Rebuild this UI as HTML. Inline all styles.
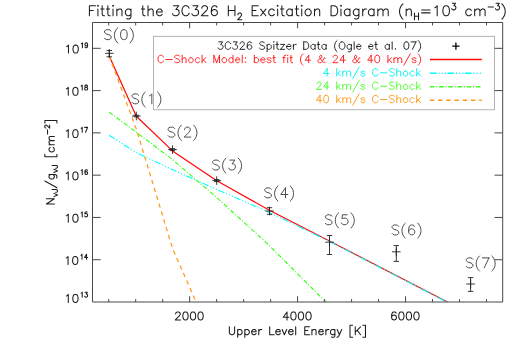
<!DOCTYPE html>
<html><head><meta charset="utf-8"><title>3C326 H2 Excitation Diagram</title>
<style>html,body{margin:0;padding:0;background:#fff;font-family:"Liberation Sans",sans-serif}svg{display:block}</style></head>
<body><svg width="525" height="359" viewBox="0 0 525 359">
<rect x="0" y="0" width="525" height="359" fill="#fff"/>
<defs><clipPath id="c"><rect x="92.5" y="22.5" width="410.2" height="279.5"/></clipPath></defs>
<g clip-path="url(#c)" fill="none" stroke-linecap="butt" stroke-linejoin="round">
<polyline points="109.2,56.0 136.3,116.2 172.5,150.9 216.8,180.7 269.4,210.3 329.4,241.0 447.5,302.0" stroke="#ff0a0a" stroke-width="1.25"/>
<polyline points="109.1,135.3 136.3,152.6 172.4,169.6 216.8,189.5 269.3,212.4 329.4,241.4 447.5,302.3" stroke="#00ffff" stroke-width="1.15" stroke-dasharray="6.6 1.85 1.1 2.1 1.1 2.05 1.1 1.6"/>
<polyline points="109.1,112.0 136.3,132.2 172.4,159.5 216.8,197.6 269.3,245.5 329.3,305.5" stroke="#3cff1e" stroke-width="1.15" stroke-dasharray="4.5 1.7 1.05 1.95"/>
<polyline points="109.2,56.0 136.3,129.0 172.6,248.7 217.6,350.8" stroke="#ff9a14" stroke-width="1.25" stroke-dasharray="4.3 3.9"/>
</g>
<path d="M105.0 53.3H113.6M109.3 49.0V57.6M109.3 50.5V56.8M106.6 50.5H112.0M106.6 56.8H112.0M132.0 116.0H140.6M136.3 111.7V120.3M136.3 115.2V116.8M133.6 115.2H139.0M133.6 116.8H139.0M168.2 149.6H176.8M172.5 145.3V153.9M172.5 148.6V150.6M169.8 148.6H175.2M169.8 150.6H175.2M212.4 180.6H221.0M216.7 176.3V184.9M216.7 179.6V181.6M214.0 179.6H219.4M214.0 181.6H219.4M265.2 211.0H273.8M269.5 206.7V215.3M269.5 207.7V214.3M266.8 207.7H272.2M266.8 214.3H272.2M325.2 242.2H333.8M329.5 237.9V246.5M329.5 235.5V254.5M326.8 235.5H332.2M326.8 254.5H332.2M392.0 251.8H400.6M396.3 247.4V256.1M396.3 245.6V261.4M393.6 245.6H399.0M393.6 261.4H399.0M466.3 284.0H474.9M470.6 279.7V288.3M470.6 277.6V291.4M467.9 277.6H473.3M467.9 291.4H473.3" stroke="#222" stroke-width="0.9" fill="none"/>
<rect x="153.5" y="36.4" width="341.0" height="73.30000000000001" fill="#fff" stroke="#b4b4b4" stroke-width="1"/>
<path d="M218.79 41.89L222.70 41.89L220.57 44.73L221.63 44.73L222.34 45.09L222.70 45.44L223.05 46.51L223.05 47.22L222.70 48.28L221.99 48.99L220.92 49.35L219.86 49.35L218.79 48.99L218.43 48.64L218.08 47.93M230.51 43.67L230.16 42.95L229.45 42.24L228.74 41.89L227.32 41.89L226.61 42.24L225.90 42.95L225.54 43.67L225.19 44.73L225.19 46.51L225.54 47.57L225.90 48.28L226.61 48.99L227.32 49.35L228.74 49.35L229.45 48.99L230.16 48.28L230.51 47.57M233.36 41.89L237.27 41.89L235.13 44.73L236.20 44.73L236.91 45.09L237.27 45.44L237.62 46.51L237.62 47.22L237.27 48.28L236.55 48.99L235.49 49.35L234.42 49.35L233.36 48.99L233.00 48.64L232.65 47.93M240.11 43.67L240.11 43.31L240.46 42.60L240.82 42.24L241.53 41.89L242.95 41.89L243.66 42.24L244.02 42.60L244.37 43.31L244.37 44.02L244.02 44.73L243.31 45.80L239.75 49.35L244.73 49.35M251.48 42.95L251.12 42.24L250.06 41.89L249.35 41.89L248.28 42.24L247.57 43.31L247.21 45.09L247.21 46.86L247.57 48.28L248.28 48.99L249.35 49.35L249.70 49.35L250.77 48.99L251.48 48.28L251.83 47.22L251.83 46.86L251.48 45.80L250.77 45.09L249.70 44.73L249.35 44.73L248.28 45.09L247.57 45.80L247.21 46.86M264.62 42.95L263.91 42.24L262.85 41.89L261.43 41.89L260.36 42.24L259.65 42.95L259.65 43.67L260.00 44.38L260.36 44.73L261.07 45.09L263.20 45.80L263.91 46.15L264.27 46.51L264.62 47.22L264.62 48.28L263.91 48.99L262.85 49.35L261.43 49.35L260.36 48.99L259.65 48.28M267.11 44.38L267.11 51.84M267.11 45.44L267.82 44.73L268.53 44.38L269.60 44.38L270.31 44.73L271.02 45.44L271.37 46.51L271.37 47.22L271.02 48.28L270.31 48.99L269.60 49.35L268.53 49.35L267.82 48.99L267.11 48.28M273.51 41.89L273.86 42.24L274.22 41.89L273.86 41.53L273.51 41.89M273.86 44.38L273.86 49.35M277.06 41.89L277.06 47.93L277.41 48.99L278.12 49.35L278.84 49.35M275.99 44.38L278.48 44.38M284.52 44.38L280.61 49.35M280.61 44.38L284.52 44.38M280.61 49.35L284.52 49.35M286.65 46.51L290.92 46.51L290.92 45.80L290.56 45.09L290.20 44.73L289.49 44.38L288.43 44.38L287.72 44.73L287.01 45.44L286.65 46.51L286.65 47.22L287.01 48.28L287.72 48.99L288.43 49.35L289.49 49.35L290.20 48.99L290.92 48.28M293.40 44.38L293.40 49.35M293.40 46.51L293.76 45.44L294.47 44.73L295.18 44.38L296.25 44.38M303.71 41.89L303.71 49.35M303.71 41.89L306.19 41.89L307.26 42.24L307.97 42.95L308.33 43.67L308.68 44.73L308.68 46.51L308.33 47.57L307.97 48.28L307.26 48.99L306.19 49.35L303.71 49.35M315.08 44.38L315.08 49.35M315.08 45.44L314.37 44.73L313.65 44.38L312.59 44.38L311.88 44.73L311.17 45.44L310.81 46.51L310.81 47.22L311.17 48.28L311.88 48.99L312.59 49.35L313.65 49.35L314.37 48.99L315.08 48.28M318.27 41.89L318.27 47.93L318.63 48.99L319.34 49.35L320.05 49.35M317.21 44.38L319.69 44.38M326.09 44.38L326.09 49.35M326.09 45.44L325.38 44.73L324.67 44.38L323.60 44.38L322.89 44.73L322.18 45.44L321.83 46.51L321.83 47.22L322.18 48.28L322.89 48.99L323.60 49.35L324.67 49.35L325.38 48.99L326.09 48.28M337.10 40.47L336.39 41.18L335.68 42.24L334.97 43.67L334.62 45.44L334.62 46.86L334.97 48.64L335.68 50.06L336.39 51.13L337.10 51.84M341.37 41.89L340.66 42.24L339.95 42.95L339.59 43.67L339.24 44.73L339.24 46.51L339.59 47.57L339.95 48.28L340.66 48.99L341.37 49.35L342.79 49.35L343.50 48.99L344.21 48.28L344.57 47.57L344.92 46.51L344.92 44.73L344.57 43.67L344.21 42.95L343.50 42.24L342.79 41.89L341.37 41.89M351.32 44.38L351.32 50.06L350.96 51.13L350.61 51.48L349.90 51.84L348.83 51.84L348.12 51.48M351.32 45.44L350.61 44.73L349.90 44.38L348.83 44.38L348.12 44.73L347.41 45.44L347.05 46.51L347.05 47.22L347.41 48.28L348.12 48.99L348.83 49.35L349.90 49.35L350.61 48.99L351.32 48.28M354.16 41.89L354.16 49.35M356.65 46.51L360.91 46.51L360.91 45.80L360.55 45.09L360.20 44.73L359.49 44.38L358.42 44.38L357.71 44.73L357.00 45.44L356.65 46.51L356.65 47.22L357.00 48.28L357.71 48.99L358.42 49.35L359.49 49.35L360.20 48.99L360.91 48.28M368.73 46.51L372.99 46.51L372.99 45.80L372.63 45.09L372.28 44.73L371.57 44.38L370.50 44.38L369.79 44.73L369.08 45.44L368.73 46.51L368.73 47.22L369.08 48.28L369.79 48.99L370.50 49.35L371.57 49.35L372.28 48.99L372.99 48.28M375.83 41.89L375.83 47.93L376.19 48.99L376.90 49.35L377.61 49.35M374.77 44.38L377.25 44.38M389.33 44.38L389.33 49.35M389.33 45.44L388.62 44.73L387.91 44.38L386.85 44.38L386.14 44.73L385.43 45.44L385.07 46.51L385.07 47.22L385.43 48.28L386.14 48.99L386.85 49.35L387.91 49.35L388.62 48.99L389.33 48.28M392.18 41.89L392.18 49.35M395.37 48.64L395.02 48.99L395.37 49.35L395.73 48.99L395.37 48.64M406.03 41.89L404.97 42.24L404.26 43.31L403.90 45.09L403.90 46.15L404.26 47.93L404.97 48.99L406.03 49.35L406.74 49.35L407.81 48.99L408.52 47.93L408.88 46.15L408.88 45.09L408.52 43.31L407.81 42.24L406.74 41.89L406.03 41.89M415.98 41.89L412.43 49.35M411.01 41.89L415.98 41.89M418.11 40.47L418.82 41.18L419.53 42.24L420.24 43.67L420.60 45.44L420.60 46.86L420.24 48.64L419.53 50.06L418.82 51.13L418.11 51.84" stroke="#1e1e1e" stroke-width="0.95" fill="none" stroke-linecap="round" stroke-linejoin="round"/>
<path d="M163.36 57.02L163.01 56.30L162.30 55.59L161.59 55.24L160.17 55.24L159.45 55.59L158.74 56.30L158.39 57.02L158.03 58.08L158.03 59.86L158.39 60.92L158.74 61.63L159.45 62.34L160.17 62.70L161.59 62.70L162.30 62.34L163.01 61.63L163.36 60.92M165.85 59.50L172.25 59.50M179.71 56.30L179.00 55.59L177.93 55.24L176.51 55.24L175.44 55.59L174.73 56.30L174.73 57.02L175.09 57.73L175.44 58.08L176.15 58.44L178.29 59.15L179.00 59.50L179.35 59.86L179.71 60.57L179.71 61.63L179.00 62.34L177.93 62.70L176.51 62.70L175.44 62.34L174.73 61.63M182.19 55.24L182.19 62.70M182.19 59.15L183.26 58.08L183.97 57.73L185.04 57.73L185.75 58.08L186.10 59.15L186.10 62.70M190.37 57.73L189.66 58.08L188.94 58.79L188.59 59.86L188.59 60.57L188.94 61.63L189.66 62.34L190.37 62.70L191.43 62.70L192.14 62.34L192.85 61.63L193.21 60.57L193.21 59.86L192.85 58.79L192.14 58.08L191.43 57.73L190.37 57.73M199.60 58.79L198.89 58.08L198.18 57.73L197.12 57.73L196.41 58.08L195.70 58.79L195.34 59.86L195.34 60.57L195.70 61.63L196.41 62.34L197.12 62.70L198.18 62.70L198.89 62.34L199.60 61.63M202.09 55.24L202.09 62.70M205.64 57.73L202.09 61.28M203.51 59.86L206.00 62.70M213.82 55.24L213.82 62.70M213.82 55.24L216.66 62.70M219.50 55.24L216.66 62.70M219.50 55.24L219.50 62.70M223.76 57.73L223.05 58.08L222.34 58.79L221.99 59.86L221.99 60.57L222.34 61.63L223.05 62.34L223.76 62.70L224.83 62.70L225.54 62.34L226.25 61.63L226.61 60.57L226.61 59.86L226.25 58.79L225.54 58.08L224.83 57.73L223.76 57.73M233.00 55.24L233.00 62.70M233.00 58.79L232.29 58.08L231.58 57.73L230.51 57.73L229.80 58.08L229.09 58.79L228.74 59.86L228.74 60.57L229.09 61.63L229.80 62.34L230.51 62.70L231.58 62.70L232.29 62.34L233.00 61.63M235.49 59.86L239.75 59.86L239.75 59.15L239.40 58.44L239.04 58.08L238.33 57.73L237.27 57.73L236.55 58.08L235.84 58.79L235.49 59.86L235.49 60.57L235.84 61.63L236.55 62.34L237.27 62.70L238.33 62.70L239.04 62.34L239.75 61.63M242.24 55.24L242.24 62.70M245.44 57.73L245.08 58.08L245.44 58.44L245.79 58.08L245.44 57.73M245.44 61.99L245.08 62.34L245.44 62.70L245.79 62.34L245.44 61.99M254.32 55.24L254.32 62.70M254.32 58.79L255.03 58.08L255.74 57.73L256.81 57.73L257.52 58.08L258.23 58.79L258.58 59.86L258.58 60.57L258.23 61.63L257.52 62.34L256.81 62.70L255.74 62.70L255.03 62.34L254.32 61.63M260.72 59.86L264.98 59.86L264.98 59.15L264.62 58.44L264.27 58.08L263.56 57.73L262.49 57.73L261.78 58.08L261.07 58.79L260.72 59.86L260.72 60.57L261.07 61.63L261.78 62.34L262.49 62.70L263.56 62.70L264.27 62.34L264.98 61.63M271.02 58.79L270.66 58.08L269.60 57.73L268.53 57.73L267.47 58.08L267.11 58.79L267.47 59.50L268.18 59.86L269.95 60.21L270.66 60.57L271.02 61.28L271.02 61.63L270.66 62.34L269.60 62.70L268.53 62.70L267.47 62.34L267.11 61.63M273.86 55.24L273.86 61.28L274.22 62.34L274.93 62.70L275.64 62.70M272.80 57.73L275.28 57.73M285.59 55.24L284.88 55.24L284.16 55.59L283.81 56.66L283.81 62.70M282.74 57.73L285.23 57.73M287.36 55.24L287.72 55.59L288.07 55.24L287.72 54.88L287.36 55.24M287.72 57.73L287.72 62.70M290.92 55.24L290.92 61.28L291.27 62.34L291.98 62.70L292.69 62.70M289.85 57.73L292.34 57.73M303.00 53.82L302.29 54.53L301.57 55.59L300.86 57.02L300.51 58.79L300.51 60.21L300.86 61.99L301.57 63.41L302.29 64.48L303.00 65.19M308.68 55.24L305.13 60.21L310.46 60.21M308.68 55.24L308.68 62.70M325.02 58.44L325.02 58.08L324.67 57.73L324.31 57.73L323.96 58.08L323.60 58.79L322.89 60.57L322.18 61.63L321.47 62.34L320.76 62.70L319.34 62.70L318.63 62.34L318.27 61.99L317.92 61.28L317.92 60.57L318.27 59.86L318.63 59.50L321.12 58.08L321.47 57.73L321.83 57.02L321.83 56.30L321.47 55.59L320.76 55.24L320.05 55.59L319.69 56.30L319.69 57.02L320.05 58.08L320.76 59.15L322.54 61.63L323.25 62.34L323.96 62.70L324.67 62.70L325.02 62.34L325.02 61.99M333.20 57.02L333.20 56.66L333.55 55.95L333.91 55.59L334.62 55.24L336.04 55.24L336.75 55.59L337.10 55.95L337.46 56.66L337.46 57.37L337.10 58.08L336.39 59.15L332.84 62.70L337.82 62.70M343.50 55.24L339.95 60.21L345.28 60.21M343.50 55.24L343.50 62.70M359.84 58.44L359.84 58.08L359.49 57.73L359.13 57.73L358.78 58.08L358.42 58.79L357.71 60.57L357.00 61.63L356.29 62.34L355.58 62.70L354.16 62.70L353.45 62.34L353.09 61.99L352.74 61.28L352.74 60.57L353.09 59.86L353.45 59.50L355.94 58.08L356.29 57.73L356.65 57.02L356.65 56.30L356.29 55.59L355.58 55.24L354.87 55.59L354.51 56.30L354.51 57.02L354.87 58.08L355.58 59.15L357.36 61.63L358.07 62.34L358.78 62.70L359.49 62.70L359.84 62.34L359.84 61.99M371.21 55.24L367.66 60.21L372.99 60.21M371.21 55.24L371.21 62.70M376.90 55.24L375.83 55.59L375.12 56.66L374.77 58.44L374.77 59.50L375.12 61.28L375.83 62.34L376.90 62.70L377.61 62.70L378.67 62.34L379.39 61.28L379.74 59.50L379.74 58.44L379.39 56.66L378.67 55.59L377.61 55.24L376.90 55.24M387.91 55.24L387.91 62.70M391.47 57.73L387.91 61.28M389.33 59.86L391.82 62.70M393.95 57.73L393.95 62.70M393.95 59.15L395.02 58.08L395.73 57.73L396.79 57.73L397.51 58.08L397.86 59.15L397.86 62.70M397.86 59.15L398.93 58.08L399.64 57.73L400.70 57.73L401.41 58.08L401.77 59.15L401.77 62.70M410.30 53.82L403.90 65.19M415.98 58.79L415.63 58.08L414.56 57.73L413.49 57.73L412.43 58.08L412.07 58.79L412.43 59.50L413.14 59.86L414.92 60.21L415.63 60.57L415.98 61.28L415.98 61.63L415.63 62.34L414.56 62.70L413.49 62.70L412.43 62.34L412.07 61.63M418.11 53.82L418.82 54.53L419.53 55.59L420.24 57.02L420.60 58.79L420.60 60.21L420.24 61.99L419.53 63.41L418.82 64.48L418.11 65.19" stroke="#ff1c1c" stroke-width="0.95" fill="none" stroke-linecap="round" stroke-linejoin="round"/>
<path d="M327.16 68.59L323.60 73.56L328.93 73.56M327.16 68.59L327.16 76.05M336.75 68.59L336.75 76.05M340.30 71.08L336.75 74.63M338.17 73.21L340.66 76.05M342.79 71.08L342.79 76.05M342.79 72.50L343.86 71.43L344.57 71.08L345.63 71.08L346.34 71.43L346.70 72.50L346.70 76.05M346.70 72.50L347.76 71.43L348.47 71.08L349.54 71.08L350.25 71.43L350.61 72.50L350.61 76.05M359.13 67.17L352.74 78.54M364.82 72.14L364.46 71.43L363.40 71.08L362.33 71.08L361.26 71.43L360.91 72.14L361.26 72.85L361.98 73.21L363.75 73.56L364.46 73.92L364.82 74.63L364.82 74.98L364.46 75.69L363.40 76.05L362.33 76.05L361.26 75.69L360.91 74.98M377.96 70.37L377.61 69.65L376.90 68.94L376.19 68.59L374.77 68.59L374.06 68.94L373.35 69.65L372.99 70.37L372.63 71.43L372.63 73.21L372.99 74.27L373.35 74.98L374.06 75.69L374.77 76.05L376.19 76.05L376.90 75.69L377.61 74.98L377.96 74.27M380.45 72.85L386.85 72.85M394.31 69.65L393.60 68.94L392.53 68.59L391.11 68.59L390.04 68.94L389.33 69.65L389.33 70.37L389.69 71.08L390.04 71.43L390.75 71.79L392.89 72.50L393.60 72.85L393.95 73.21L394.31 73.92L394.31 74.98L393.60 75.69L392.53 76.05L391.11 76.05L390.04 75.69L389.33 74.98M396.79 68.59L396.79 76.05M396.79 72.50L397.86 71.43L398.57 71.08L399.64 71.08L400.35 71.43L400.70 72.50L400.70 76.05M404.97 71.08L404.26 71.43L403.55 72.14L403.19 73.21L403.19 73.92L403.55 74.98L404.26 75.69L404.97 76.05L406.03 76.05L406.74 75.69L407.45 74.98L407.81 73.92L407.81 73.21L407.45 72.14L406.74 71.43L406.03 71.08L404.97 71.08M414.20 72.14L413.49 71.43L412.78 71.08L411.72 71.08L411.01 71.43L410.30 72.14L409.94 73.21L409.94 73.92L410.30 74.98L411.01 75.69L411.72 76.05L412.78 76.05L413.49 75.69L414.20 74.98M416.69 68.59L416.69 76.05M420.24 71.08L416.69 74.63M418.11 73.21L420.60 76.05" stroke="#00f0f0" stroke-width="0.95" fill="none" stroke-linecap="round" stroke-linejoin="round"/>
<path d="M316.85 83.72L316.85 83.36L317.21 82.65L317.56 82.29L318.27 81.94L319.69 81.94L320.41 82.29L320.76 82.65L321.12 83.36L321.12 84.07L320.76 84.78L320.05 85.85L316.50 89.40L321.47 89.40M327.16 81.94L323.60 86.91L328.93 86.91M327.16 81.94L327.16 89.40M336.75 81.94L336.75 89.40M340.30 84.43L336.75 87.98M338.17 86.56L340.66 89.40M342.79 84.43L342.79 89.40M342.79 85.85L343.86 84.78L344.57 84.43L345.63 84.43L346.34 84.78L346.70 85.85L346.70 89.40M346.70 85.85L347.76 84.78L348.47 84.43L349.54 84.43L350.25 84.78L350.61 85.85L350.61 89.40M359.13 80.52L352.74 91.89M364.82 85.49L364.46 84.78L363.40 84.43L362.33 84.43L361.26 84.78L360.91 85.49L361.26 86.20L361.98 86.56L363.75 86.91L364.46 87.27L364.82 87.98L364.82 88.33L364.46 89.04L363.40 89.40L362.33 89.40L361.26 89.04L360.91 88.33M377.96 83.72L377.61 83.00L376.90 82.29L376.19 81.94L374.77 81.94L374.06 82.29L373.35 83.00L372.99 83.72L372.63 84.78L372.63 86.56L372.99 87.62L373.35 88.33L374.06 89.04L374.77 89.40L376.19 89.40L376.90 89.04L377.61 88.33L377.96 87.62M380.45 86.20L386.85 86.20M394.31 83.00L393.60 82.29L392.53 81.94L391.11 81.94L390.04 82.29L389.33 83.00L389.33 83.72L389.69 84.43L390.04 84.78L390.75 85.14L392.89 85.85L393.60 86.20L393.95 86.56L394.31 87.27L394.31 88.33L393.60 89.04L392.53 89.40L391.11 89.40L390.04 89.04L389.33 88.33M396.79 81.94L396.79 89.40M396.79 85.85L397.86 84.78L398.57 84.43L399.64 84.43L400.35 84.78L400.70 85.85L400.70 89.40M404.97 84.43L404.26 84.78L403.55 85.49L403.19 86.56L403.19 87.27L403.55 88.33L404.26 89.04L404.97 89.40L406.03 89.40L406.74 89.04L407.45 88.33L407.81 87.27L407.81 86.56L407.45 85.49L406.74 84.78L406.03 84.43L404.97 84.43M414.20 85.49L413.49 84.78L412.78 84.43L411.72 84.43L411.01 84.78L410.30 85.49L409.94 86.56L409.94 87.27L410.30 88.33L411.01 89.04L411.72 89.40L412.78 89.40L413.49 89.04L414.20 88.33M416.69 81.94L416.69 89.40M420.24 84.43L416.69 87.98M418.11 86.56L420.60 89.40" stroke="#48ff28" stroke-width="0.95" fill="none" stroke-linecap="round" stroke-linejoin="round"/>
<path d="M320.05 95.29L316.50 100.26L321.83 100.26M320.05 95.29L320.05 102.75M325.73 95.29L324.67 95.64L323.96 96.71L323.60 98.49L323.60 99.55L323.96 101.33L324.67 102.39L325.73 102.75L326.45 102.75L327.51 102.39L328.22 101.33L328.58 99.55L328.58 98.49L328.22 96.71L327.51 95.64L326.45 95.29L325.73 95.29M336.75 95.29L336.75 102.75M340.30 97.78L336.75 101.33M338.17 99.91L340.66 102.75M342.79 97.78L342.79 102.75M342.79 99.20L343.86 98.13L344.57 97.78L345.63 97.78L346.34 98.13L346.70 99.20L346.70 102.75M346.70 99.20L347.76 98.13L348.47 97.78L349.54 97.78L350.25 98.13L350.61 99.20L350.61 102.75M359.13 93.87L352.74 105.24M364.82 98.84L364.46 98.13L363.40 97.78L362.33 97.78L361.26 98.13L360.91 98.84L361.26 99.55L361.98 99.91L363.75 100.26L364.46 100.62L364.82 101.33L364.82 101.68L364.46 102.39L363.40 102.75L362.33 102.75L361.26 102.39L360.91 101.68M377.96 97.07L377.61 96.35L376.90 95.64L376.19 95.29L374.77 95.29L374.06 95.64L373.35 96.35L372.99 97.07L372.63 98.13L372.63 99.91L372.99 100.97L373.35 101.68L374.06 102.39L374.77 102.75L376.19 102.75L376.90 102.39L377.61 101.68L377.96 100.97M380.45 99.55L386.85 99.55M394.31 96.35L393.60 95.64L392.53 95.29L391.11 95.29L390.04 95.64L389.33 96.35L389.33 97.07L389.69 97.78L390.04 98.13L390.75 98.49L392.89 99.20L393.60 99.55L393.95 99.91L394.31 100.62L394.31 101.68L393.60 102.39L392.53 102.75L391.11 102.75L390.04 102.39L389.33 101.68M396.79 95.29L396.79 102.75M396.79 99.20L397.86 98.13L398.57 97.78L399.64 97.78L400.35 98.13L400.70 99.20L400.70 102.75M404.97 97.78L404.26 98.13L403.55 98.84L403.19 99.91L403.19 100.62L403.55 101.68L404.26 102.39L404.97 102.75L406.03 102.75L406.74 102.39L407.45 101.68L407.81 100.62L407.81 99.91L407.45 98.84L406.74 98.13L406.03 97.78L404.97 97.78M414.20 98.84L413.49 98.13L412.78 97.78L411.72 97.78L411.01 98.13L410.30 98.84L409.94 99.91L409.94 100.62L410.30 101.68L411.01 102.39L411.72 102.75L412.78 102.75L413.49 102.39L414.20 101.68M416.69 95.29L416.69 102.75M420.24 97.78L416.69 101.33M418.11 99.91L420.60 102.75" stroke="#ff9a14" stroke-width="0.95" fill="none" stroke-linecap="round" stroke-linejoin="round"/>
<path d="M452.29999999999995 46.2H459.5M455.9 42.6V49.800000000000004" stroke="#000" stroke-width="1.3" fill="none"/>
<path d="M430.0 59.6H481.8" stroke="#ff0a0a" stroke-width="1.5" fill="none"/>
<path d="M430.0 73.2H481.8" stroke="#00ffff" stroke-width="1.4" fill="none" stroke-dasharray="6.6 1.85 1.1 2.1 1.1 2.05 1.1 1.6"/>
<path d="M430.0 86.7H481.8" stroke="#3cff1e" stroke-width="1.4" fill="none" stroke-dasharray="4.5 1.7 1.05 1.95"/>
<path d="M430.0 100.3H481.8" stroke="#ff9a14" stroke-width="1.4" fill="none" stroke-dasharray="4.3 3.9"/>
<path d="M111.11 31.10L110.17 30.15L108.75 29.68L106.86 29.68L105.44 30.15L104.50 31.10L104.50 32.04L104.97 32.98L105.44 33.46L106.39 33.93L109.22 34.88L110.17 35.35L110.64 35.82L111.11 36.77L111.11 38.18L110.17 39.13L108.75 39.60L106.86 39.60L105.44 39.13L104.50 38.18M117.73 27.79L116.78 28.73L115.84 30.15L114.89 32.04L114.42 34.40L114.42 36.29L114.89 38.66L115.84 40.55L116.78 41.96L117.73 42.91M123.40 29.68L121.98 30.15L121.04 31.57L120.56 33.93L120.56 35.35L121.04 37.71L121.98 39.13L123.40 39.60L124.34 39.60L125.76 39.13L126.71 37.71L127.18 35.35L127.18 33.93L126.71 31.57L125.76 30.15L124.34 29.68L123.40 29.68M130.01 27.79L130.96 28.73L131.91 30.15L132.85 32.04L133.32 34.40L133.32 36.29L132.85 38.66L131.91 40.55L130.96 41.96L130.01 42.91M138.62 95.30L137.67 94.35L136.25 93.88L134.36 93.88L132.95 94.35L132.00 95.30L132.00 96.24L132.47 97.19L132.95 97.66L133.89 98.13L136.73 99.08L137.67 99.55L138.14 100.02L138.62 100.97L138.62 102.38L137.67 103.33L136.25 103.80L134.36 103.80L132.95 103.33L132.00 102.38M145.23 91.99L144.28 92.93L143.34 94.35L142.40 96.24L141.92 98.60L141.92 100.49L142.40 102.86L143.34 104.74L144.28 106.16L145.23 107.11M149.48 95.77L150.43 95.30L151.84 93.88L151.84 103.80M157.51 91.99L158.46 92.93L159.41 94.35L160.35 96.24L160.82 98.60L160.82 100.49L160.35 102.86L159.41 104.74L158.46 106.16L157.51 107.11M174.72 128.59L173.77 127.65L172.35 127.18L170.46 127.18L169.05 127.65L168.10 128.59L168.10 129.54L168.57 130.48L169.05 130.96L169.99 131.43L172.83 132.38L173.77 132.85L174.24 133.32L174.72 134.26L174.72 135.68L173.77 136.63L172.35 137.10L170.46 137.10L169.05 136.63L168.10 135.68M181.33 125.29L180.38 126.23L179.44 127.65L178.50 129.54L178.02 131.90L178.02 133.79L178.50 136.16L179.44 138.04L180.38 139.46L181.33 140.41M184.64 129.54L184.64 129.07L185.11 128.12L185.58 127.65L186.53 127.18L188.42 127.18L189.36 127.65L189.84 128.12L190.31 129.07L190.31 130.01L189.84 130.96L188.89 132.38L184.16 137.10L190.78 137.10M193.61 125.29L194.56 126.23L195.50 127.65L196.45 129.54L196.92 131.90L196.92 133.79L196.45 136.16L195.50 138.04L194.56 139.46L193.61 140.41M219.31 161.50L218.37 160.55L216.95 160.08L215.06 160.08L213.65 160.55L212.70 161.50L212.70 162.44L213.17 163.38L213.65 163.86L214.59 164.33L217.43 165.28L218.37 165.75L218.84 166.22L219.31 167.16L219.31 168.58L218.37 169.53L216.95 170.00L215.06 170.00L213.65 169.53L212.70 168.58M225.93 158.19L224.98 159.13L224.04 160.55L223.09 162.44L222.62 164.80L222.62 166.69L223.09 169.06L224.04 170.94L224.98 172.36L225.93 173.31M229.71 160.08L234.91 160.08L232.07 163.86L233.49 163.86L234.44 164.33L234.91 164.80L235.38 166.22L235.38 167.16L234.91 168.58L233.96 169.53L232.54 170.00L231.13 170.00L229.71 169.53L229.24 169.06L228.76 168.11M238.21 158.19L239.16 159.13L240.10 160.55L241.05 162.44L241.52 164.80L241.52 166.69L241.05 169.06L240.10 170.94L239.16 172.36L238.21 173.31M271.31 189.30L270.37 188.35L268.95 187.88L267.06 187.88L265.64 188.35L264.70 189.30L264.70 190.24L265.17 191.19L265.64 191.66L266.59 192.13L269.42 193.08L270.37 193.55L270.84 194.02L271.31 194.97L271.31 196.38L270.37 197.33L268.95 197.80L267.06 197.80L265.64 197.33L264.70 196.38M277.93 185.99L276.98 186.93L276.04 188.35L275.09 190.24L274.62 192.60L274.62 194.49L275.09 196.86L276.04 198.75L276.98 200.16L277.93 201.11M285.49 187.88L280.76 194.49L287.85 194.49M285.49 187.88L285.49 197.80M290.21 185.99L291.16 186.93L292.10 188.35L293.05 190.24L293.52 192.60L293.52 194.49L293.05 196.86L292.10 198.75L291.16 200.16L290.21 201.11M332.01 216.19L331.07 215.25L329.65 214.78L327.76 214.78L326.34 215.25L325.40 216.19L325.40 217.14L325.87 218.08L326.34 218.56L327.29 219.03L330.12 219.97L331.07 220.45L331.54 220.92L332.01 221.86L332.01 223.28L331.07 224.23L329.65 224.70L327.76 224.70L326.34 224.23L325.40 223.28M338.63 212.89L337.68 213.83L336.74 215.25L335.79 217.14L335.32 219.50L335.32 221.39L335.79 223.75L336.74 225.64L337.68 227.06L338.63 228.01M347.13 214.78L342.41 214.78L341.94 219.03L342.41 218.56L343.83 218.08L345.24 218.08L346.66 218.56L347.61 219.50L348.08 220.92L348.08 221.86L347.61 223.28L346.66 224.23L345.24 224.70L343.83 224.70L342.41 224.23L341.94 223.75L341.46 222.81M350.91 212.89L351.86 213.83L352.80 215.25L353.75 217.14L354.22 219.50L354.22 221.39L353.75 223.75L352.80 225.64L351.86 227.06L350.91 228.01M398.72 226.40L397.77 225.45L396.35 224.98L394.46 224.98L393.05 225.45L392.10 226.40L392.10 227.34L392.57 228.28L393.05 228.76L393.99 229.23L396.82 230.18L397.77 230.65L398.24 231.12L398.72 232.06L398.72 233.48L397.77 234.43L396.35 234.90L394.46 234.90L393.05 234.43L392.10 233.48M405.33 223.09L404.38 224.03L403.44 225.45L402.50 227.34L402.02 229.70L402.02 231.59L402.50 233.96L403.44 235.84L404.38 237.26L405.33 238.21M414.31 226.40L413.83 225.45L412.42 224.98L411.47 224.98L410.06 225.45L409.11 226.87L408.64 229.23L408.64 231.59L409.11 233.48L410.06 234.43L411.47 234.90L411.94 234.90L413.36 234.43L414.31 233.48L414.78 232.06L414.78 231.59L414.31 230.18L413.36 229.23L411.94 228.76L411.47 228.76L410.06 229.23L409.11 230.18L408.64 231.59M417.62 223.09L418.56 224.03L419.50 225.45L420.45 227.34L420.92 229.70L420.92 231.59L420.45 233.96L419.50 235.84L418.56 237.26L417.62 238.21M472.91 259.30L471.97 258.35L470.55 257.88L468.66 257.88L467.25 258.35L466.30 259.30L466.30 260.24L466.77 261.19L467.25 261.66L468.19 262.13L471.02 263.07L471.97 263.55L472.44 264.02L472.91 264.97L472.91 266.38L471.97 267.33L470.55 267.80L468.66 267.80L467.25 267.33L466.30 266.38M479.53 255.99L478.58 256.93L477.64 258.35L476.69 260.24L476.22 262.60L476.22 264.49L476.69 266.86L477.64 268.75L478.58 270.16L479.53 271.11M488.98 257.88L484.25 267.80M482.37 257.88L488.98 257.88M491.81 255.99L492.76 256.93L493.70 258.35L494.65 260.24L495.12 262.60L495.12 264.49L494.65 266.86L493.70 268.75L492.76 270.16L491.81 271.11" stroke="#4c4c4c" stroke-width="1" fill="none" stroke-linecap="round" stroke-linejoin="round"/>
<path d="M92.5 22.5H502.7V302.0H92.5ZM108.69 302.0v-2.9M108.69 22.5v2.9M135.68 302.0v-2.9M135.68 22.5v2.9M162.67 302.0v-2.9M162.67 22.5v2.9M189.65 302.0v-5.8M189.65 22.5v5.8M216.64 302.0v-2.9M216.64 22.5v2.9M243.63 302.0v-2.9M243.63 22.5v2.9M270.61 302.0v-2.9M270.61 22.5v2.9M297.60 302.0v-5.8M297.60 22.5v5.8M324.59 302.0v-2.9M324.59 22.5v2.9M351.57 302.0v-2.9M351.57 22.5v2.9M378.56 302.0v-2.9M378.56 22.5v2.9M405.55 302.0v-5.8M405.55 22.5v5.8M432.53 302.0v-2.9M432.53 22.5v2.9M459.52 302.0v-2.9M459.52 22.5v2.9M486.51 302.0v-2.9M486.51 22.5v2.9M92.5 259.72h8.2M502.7 259.72h-8.2M92.5 217.44h8.2M502.7 217.44h-8.2M92.5 175.16h8.2M502.7 175.16h-8.2M92.5 132.88h8.2M502.7 132.88h-8.2M92.5 90.60h8.2M502.7 90.60h-8.2M92.5 48.32h8.2M502.7 48.32h-8.2" stroke="#484848" stroke-width="1" fill="none" stroke-linecap="butt"/>
<path d="M175.68 313.87L175.68 313.49L176.06 312.74L176.43 312.36L177.19 311.98L178.70 311.98L179.45 312.36L179.83 312.74L180.20 313.49L180.20 314.25L179.83 315.00L179.07 316.13L175.30 319.90L180.58 319.90M185.11 311.98L183.97 312.36L183.22 313.49L182.84 315.38L182.84 316.51L183.22 318.39L183.97 319.52L185.11 319.90L185.86 319.90L186.99 319.52L187.74 318.39L188.12 316.51L188.12 315.38L187.74 313.49L186.99 312.36L185.86 311.98L185.11 311.98M192.65 311.98L191.51 312.36L190.76 313.49L190.38 315.38L190.38 316.51L190.76 318.39L191.51 319.52L192.65 319.90L193.40 319.90L194.53 319.52L195.28 318.39L195.66 316.51L195.66 315.38L195.28 313.49L194.53 312.36L193.40 311.98L192.65 311.98M200.19 311.98L199.05 312.36L198.30 313.49L197.92 315.38L197.92 316.51L198.30 318.39L199.05 319.52L200.19 319.90L200.94 319.90L202.07 319.52L202.82 318.39L203.20 316.51L203.20 315.38L202.82 313.49L202.07 312.36L200.94 311.98L200.19 311.98M287.02 311.98L283.25 317.26L288.91 317.26M287.02 311.98L287.02 319.90M293.05 311.98L291.92 312.36L291.17 313.49L290.79 315.38L290.79 316.51L291.17 318.39L291.92 319.52L293.05 319.90L293.81 319.90L294.94 319.52L295.69 318.39L296.07 316.51L296.07 315.38L295.69 313.49L294.94 312.36L293.81 311.98L293.05 311.98M300.59 311.98L299.46 312.36L298.71 313.49L298.33 315.38L298.33 316.51L298.71 318.39L299.46 319.52L300.59 319.90L301.35 319.90L302.48 319.52L303.23 318.39L303.61 316.51L303.61 315.38L303.23 313.49L302.48 312.36L301.35 311.98L300.59 311.98M308.13 311.98L307.00 312.36L306.25 313.49L305.87 315.38L305.87 316.51L306.25 318.39L307.00 319.52L308.13 319.90L308.89 319.90L310.02 319.52L310.77 318.39L311.15 316.51L311.15 315.38L310.77 313.49L310.02 312.36L308.89 311.98L308.13 311.98M396.10 313.11L395.72 312.36L394.59 311.98L393.84 311.98L392.71 312.36L391.95 313.49L391.58 315.38L391.58 317.26L391.95 318.77L392.71 319.52L393.84 319.90L394.21 319.90L395.35 319.52L396.10 318.77L396.48 317.64L396.48 317.26L396.10 316.13L395.35 315.38L394.21 315.00L393.84 315.00L392.71 315.38L391.95 316.13L391.58 317.26M401.00 311.98L399.87 312.36L399.12 313.49L398.74 315.38L398.74 316.51L399.12 318.39L399.87 319.52L401.00 319.90L401.75 319.90L402.89 319.52L403.64 318.39L404.02 316.51L404.02 315.38L403.64 313.49L402.89 312.36L401.75 311.98L401.00 311.98M408.54 311.98L407.41 312.36L406.66 313.49L406.28 315.38L406.28 316.51L406.66 318.39L407.41 319.52L408.54 319.90L409.29 319.90L410.43 319.52L411.18 318.39L411.56 316.51L411.56 315.38L411.18 313.49L410.43 312.36L409.29 311.98L408.54 311.98M416.08 311.98L414.95 312.36L414.20 313.49L413.82 315.38L413.82 316.51L414.20 318.39L414.95 319.52L416.08 319.90L416.83 319.90L417.97 319.52L418.72 318.39L419.10 316.51L419.10 315.38L418.72 313.49L417.97 312.36L416.83 311.98L416.08 311.98M66.39 295.99L67.14 295.61L68.27 294.48L68.27 302.40M75.06 294.48L73.93 294.86L73.17 295.99L72.80 297.88L72.80 299.01L73.17 300.89L73.93 302.02L75.06 302.40L75.81 302.40L76.94 302.02L77.70 300.89L78.07 299.01L78.07 297.88L77.70 295.99L76.94 294.86L75.81 294.48L75.06 294.48M81.17 293.15L81.59 292.91L82.21 292.21L82.21 297.12M85.11 292.21L87.39 292.21L86.15 294.08L86.77 294.08L87.19 294.32L87.39 294.55L87.60 295.25L87.60 295.72L87.39 296.42L86.98 296.89L86.36 297.12L85.73 297.12L85.11 296.89L84.90 296.65L84.70 296.19M66.18 258.01L66.93 257.63L68.06 256.50L68.06 264.42M74.85 256.50L73.72 256.88L72.96 258.01L72.59 259.90L72.59 261.03L72.96 262.91L73.72 264.04L74.85 264.42L75.60 264.42L76.73 264.04L77.49 262.91L77.87 261.03L77.87 259.90L77.49 258.01L76.73 256.88L75.60 256.50L74.85 256.50M80.96 255.17L81.38 254.93L82.00 254.23L82.00 259.14M86.56 254.23L84.49 257.51L87.60 257.51M86.56 254.23L86.56 259.14M66.39 215.73L67.14 215.35L68.27 214.22L68.27 222.14M75.06 214.22L73.93 214.60L73.17 215.73L72.80 217.62L72.80 218.75L73.17 220.63L73.93 221.76L75.06 222.14L75.81 222.14L76.94 221.76L77.70 220.63L78.07 218.75L78.07 217.62L77.70 215.73L76.94 214.60L75.81 214.22L75.06 214.22M81.17 212.89L81.59 212.65L82.21 211.95L82.21 216.86M87.19 211.95L85.11 211.95L84.90 214.06L85.11 213.82L85.73 213.59L86.36 213.59L86.98 213.82L87.39 214.29L87.60 214.99L87.60 215.46L87.39 216.16L86.98 216.63L86.36 216.86L85.73 216.86L85.11 216.63L84.90 216.39L84.70 215.93M66.39 173.45L67.14 173.07L68.27 171.94L68.27 179.86M75.06 171.94L73.93 172.32L73.17 173.45L72.80 175.34L72.80 176.47L73.17 178.35L73.93 179.48L75.06 179.86L75.81 179.86L76.94 179.48L77.70 178.35L78.07 176.47L78.07 175.34L77.70 173.45L76.94 172.32L75.81 171.94L75.06 171.94M81.17 170.61L81.59 170.37L82.21 169.67L82.21 174.58M87.39 170.37L87.19 169.91L86.56 169.67L86.15 169.67L85.53 169.91L85.11 170.61L84.90 171.78L84.90 172.95L85.11 173.88L85.53 174.35L86.15 174.58L86.36 174.58L86.98 174.35L87.39 173.88L87.60 173.18L87.60 172.95L87.39 172.24L86.98 171.78L86.36 171.54L86.15 171.54L85.53 171.78L85.11 172.24L84.90 172.95M66.39 131.17L67.14 130.79L68.27 129.66L68.27 137.58M75.06 129.66L73.93 130.04L73.17 131.17L72.80 133.06L72.80 134.19L73.17 136.07L73.93 137.20L75.06 137.58L75.81 137.58L76.94 137.20L77.70 136.07L78.07 134.19L78.07 133.06L77.70 131.17L76.94 130.04L75.81 129.66L75.06 129.66M81.17 128.33L81.59 128.09L82.21 127.39L82.21 132.30M87.60 127.39L85.53 132.30M84.70 127.39L87.60 127.39M66.39 88.89L67.14 88.51L68.27 87.38L68.27 95.30M75.06 87.38L73.93 87.76L73.17 88.89L72.80 90.78L72.80 91.91L73.17 93.79L73.93 94.92L75.06 95.30L75.81 95.30L76.94 94.92L77.70 93.79L78.07 91.91L78.07 90.78L77.70 88.89L76.94 87.76L75.81 87.38L75.06 87.38M81.17 86.05L81.59 85.81L82.21 85.11L82.21 90.02M85.73 85.11L85.11 85.35L84.90 85.81L84.90 86.28L85.11 86.75L85.53 86.98L86.36 87.22L86.98 87.45L87.39 87.92L87.60 88.39L87.60 89.09L87.39 89.55L87.19 89.79L86.56 90.02L85.73 90.02L85.11 89.79L84.90 89.55L84.70 89.09L84.70 88.39L84.90 87.92L85.32 87.45L85.94 87.22L86.77 86.98L87.19 86.75L87.39 86.28L87.39 85.81L87.19 85.35L86.56 85.11L85.73 85.11M66.59 46.61L67.35 46.23L68.48 45.10L68.48 53.02M75.26 45.10L74.13 45.48L73.38 46.61L73.00 48.50L73.00 49.63L73.38 51.51L74.13 52.64L75.26 53.02L76.02 53.02L77.15 52.64L77.90 51.51L78.28 49.63L78.28 48.50L77.90 46.61L77.15 45.48L76.02 45.10L75.26 45.10M81.38 43.77L81.79 43.53L82.42 42.83L82.42 47.74M87.60 44.47L87.39 45.17L86.98 45.64L86.36 45.87L86.15 45.87L85.53 45.64L85.11 45.17L84.90 44.47L84.90 44.24L85.11 43.53L85.53 43.07L86.15 42.83L86.36 42.83L86.98 43.07L87.39 43.53L87.60 44.47L87.60 45.64L87.39 46.81L86.98 47.51L86.36 47.74L85.94 47.74L85.32 47.51L85.11 47.04M229.35 326.78L229.35 332.44L229.73 333.57L230.48 334.32L231.61 334.70L232.37 334.70L233.50 334.32L234.25 333.57L234.63 332.44L234.63 326.78M237.65 329.42L237.65 337.34M237.65 330.55L238.40 329.80L239.15 329.42L240.28 329.42L241.04 329.80L241.79 330.55L242.17 331.68L242.17 332.44L241.79 333.57L241.04 334.32L240.28 334.70L239.15 334.70L238.40 334.32L237.65 333.57M244.81 329.42L244.81 337.34M244.81 330.55L245.56 329.80L246.32 329.42L247.45 329.42L248.20 329.80L248.96 330.55L249.33 331.68L249.33 332.44L248.96 333.57L248.20 334.32L247.45 334.70L246.32 334.70L245.56 334.32L244.81 333.57M251.59 331.68L256.12 331.68L256.12 330.93L255.74 330.18L255.36 329.80L254.61 329.42L253.48 329.42L252.73 329.80L251.97 330.55L251.59 331.68L251.59 332.44L251.97 333.57L252.73 334.32L253.48 334.70L254.61 334.70L255.36 334.32L256.12 333.57M258.76 329.42L258.76 334.70M258.76 331.68L259.13 330.55L259.89 329.80L260.64 329.42L261.77 329.42M269.69 326.78L269.69 334.70M269.69 334.70L274.21 334.70M275.72 331.68L280.25 331.68L280.25 330.93L279.87 330.18L279.49 329.80L278.74 329.42L277.61 329.42L276.85 329.80L276.10 330.55L275.72 331.68L275.72 332.44L276.10 333.57L276.85 334.32L277.61 334.70L278.74 334.70L279.49 334.32L280.25 333.57M282.13 329.42L284.39 334.70M286.66 329.42L284.39 334.70M288.54 331.68L293.06 331.68L293.06 330.93L292.69 330.18L292.31 329.80L291.56 329.42L290.43 329.42L289.67 329.80L288.92 330.55L288.54 331.68L288.54 332.44L288.92 333.57L289.67 334.32L290.43 334.70L291.56 334.70L292.31 334.32L293.06 333.57M295.70 326.78L295.70 334.70M304.75 326.78L304.75 334.70M304.75 326.78L309.65 326.78M304.75 330.55L307.77 330.55M304.75 334.70L309.65 334.70M311.91 329.42L311.91 334.70M311.91 330.93L313.05 329.80L313.80 329.42L314.93 329.42L315.68 329.80L316.06 330.93L316.06 334.70M318.70 331.68L323.22 331.68L323.22 330.93L322.85 330.18L322.47 329.80L321.72 329.42L320.59 329.42L319.83 329.80L319.08 330.55L318.70 331.68L318.70 332.44L319.08 333.57L319.83 334.32L320.59 334.70L321.72 334.70L322.47 334.32L323.22 333.57M325.86 329.42L325.86 334.70M325.86 331.68L326.24 330.55L326.99 329.80L327.75 329.42L328.88 329.42M334.91 329.42L334.91 335.45L334.53 336.58L334.16 336.96L333.40 337.34L332.27 337.34L331.52 336.96M334.91 330.55L334.16 329.80L333.40 329.42L332.27 329.42L331.52 329.80L330.76 330.55L330.39 331.68L330.39 332.44L330.76 333.57L331.52 334.32L332.27 334.70L333.40 334.70L334.16 334.32L334.91 333.57M337.17 329.42L339.44 334.70M341.70 329.42L339.44 334.70L338.68 336.21L337.93 336.96L337.17 337.34L336.80 337.34M349.99 325.27L349.99 337.34M349.99 325.27L352.63 325.27M349.99 337.34L352.63 337.34M355.27 326.78L355.27 334.70M360.55 326.78L355.27 332.06M357.15 330.18L360.55 334.70M365.45 325.27L365.45 337.34M362.81 325.27L365.45 325.27M362.81 337.34L365.45 337.34" stroke="#1c1c1c" stroke-width="1.05" fill="none" stroke-linecap="round" stroke-linejoin="round"/>
<path transform="translate(54.3 162.2) rotate(-90)" d="M-41.77 -7.92L-41.77 0.00M-41.77 -7.92L-36.49 0.00M-36.49 -7.92L-36.49 0.00M-34.44 -0.38L-32.81 3.20M-31.19 -0.38L-32.81 3.20M-27.39 -2.18L-27.39 1.92L-27.66 2.69L-27.93 2.95L-28.47 3.20L-29.01 3.20L-29.56 2.95L-29.83 2.69L-30.10 1.92L-30.10 1.41M-18.76 -9.43L-25.55 2.64M-12.35 -5.28L-12.35 0.75L-12.73 1.89L-13.10 2.26L-13.86 2.64L-14.99 2.64L-15.74 2.26M-12.35 -4.15L-13.10 -4.90L-13.86 -5.28L-14.99 -5.28L-15.74 -4.90L-16.50 -4.15L-16.87 -3.02L-16.87 -2.26L-16.50 -1.13L-15.74 -0.38L-14.99 0.00L-13.86 0.00L-13.10 -0.38L-12.35 -1.13M-10.30 -0.38L-8.67 3.20M-7.04 -0.38L-8.67 3.20M-3.24 -2.18L-3.24 1.92L-3.51 2.69L-3.79 2.95L-4.33 3.20L-4.87 3.20L-5.41 2.95L-5.69 2.69L-5.96 1.92L-5.96 1.41M5.38 -9.43L5.38 2.64M5.38 -9.43L8.02 -9.43M5.38 2.64L8.02 2.64M14.81 -4.15L14.05 -4.90L13.30 -5.28L12.17 -5.28L11.42 -4.90L10.66 -4.15L10.28 -3.02L10.28 -2.26L10.66 -1.13L11.42 -0.38L12.17 0.00L13.30 0.00L14.05 -0.38L14.81 -1.13M17.45 -5.28L17.45 0.00M17.45 -3.77L18.58 -4.90L19.33 -5.28L20.46 -5.28L21.22 -4.90L21.59 -3.77L21.59 0.00M21.59 -3.77L22.73 -4.90L23.48 -5.28L24.61 -5.28L25.36 -4.90L25.74 -3.77L25.74 0.00M28.18 -6.74L32.39 -6.74M34.26 -8.38L34.26 -8.61L34.50 -9.08L34.73 -9.31L35.20 -9.55L36.13 -9.55L36.60 -9.31L36.83 -9.08L37.07 -8.61L37.07 -8.14L36.83 -7.68L36.37 -6.97L34.03 -4.64L37.30 -4.64M41.77 -9.43L41.77 2.64M39.13 -9.43L41.77 -9.43M39.13 2.64L41.77 2.64" stroke="#1c1c1c" stroke-width="1.05" fill="none" stroke-linecap="round" stroke-linejoin="round"/>
<path d="M89.41 5.78L89.41 15.70M89.41 5.78L95.55 5.78M89.41 10.50L93.19 10.50M97.44 5.78L97.91 6.25L98.39 5.78L97.91 5.30L97.44 5.78M97.91 9.09L97.91 15.70M102.17 5.78L102.17 13.81L102.64 15.23L103.58 15.70L104.53 15.70M100.75 9.09L104.06 9.09M107.84 5.78L107.84 13.81L108.31 15.23L109.25 15.70L110.20 15.70M106.42 9.09L109.73 9.09M112.56 5.78L113.03 6.25L113.51 5.78L113.03 5.30L112.56 5.78M113.03 9.09L113.03 15.70M116.81 9.09L116.81 15.70M116.81 10.97L118.23 9.56L119.18 9.09L120.59 9.09L121.54 9.56L122.01 10.97L122.01 15.70M130.99 9.09L130.99 16.64L130.52 18.06L130.04 18.54L129.10 19.01L127.68 19.01L126.74 18.54M130.99 10.50L130.04 9.56L129.10 9.09L127.68 9.09L126.74 9.56L125.79 10.50L125.32 11.92L125.32 12.86L125.79 14.28L126.74 15.23L127.68 15.70L129.10 15.70L130.04 15.23L130.99 14.28M142.80 5.78L142.80 13.81L143.27 15.23L144.22 15.70L145.16 15.70M141.38 9.09L144.69 9.09M148.00 5.78L148.00 15.70M148.00 10.97L149.42 9.56L150.36 9.09L151.78 9.09L152.72 9.56L153.20 10.97L153.20 15.70M156.50 11.92L162.17 11.92L162.17 10.97L161.70 10.03L161.23 9.56L160.28 9.09L158.87 9.09L157.92 9.56L156.98 10.50L156.50 11.92L156.50 12.86L156.98 14.28L157.92 15.23L158.87 15.70L160.28 15.70L161.23 15.23L162.17 14.28M173.51 5.78L178.71 5.78L175.88 9.56L177.29 9.56L178.24 10.03L178.71 10.50L179.18 11.92L179.18 12.86L178.71 14.28L177.77 15.23L176.35 15.70L174.93 15.70L173.51 15.23L173.04 14.75L172.57 13.81M189.11 8.14L188.63 7.20L187.69 6.25L186.74 5.78L184.85 5.78L183.91 6.25L182.96 7.20L182.49 8.14L182.02 9.56L182.02 11.92L182.49 13.34L182.96 14.28L183.91 15.23L184.85 15.70L186.74 15.70L187.69 15.23L188.63 14.28L189.11 13.34M192.89 5.78L198.08 5.78L195.25 9.56L196.67 9.56L197.61 10.03L198.08 10.50L198.56 11.92L198.56 12.86L198.08 14.28L197.14 15.23L195.72 15.70L194.30 15.70L192.89 15.23L192.41 14.75L191.94 13.81M201.86 8.14L201.86 7.67L202.34 6.72L202.81 6.25L203.75 5.78L205.64 5.78L206.59 6.25L207.06 6.72L207.53 7.67L207.53 8.61L207.06 9.56L206.12 10.97L201.39 15.70L208.01 15.70M216.98 7.20L216.51 6.25L215.09 5.78L214.15 5.78L212.73 6.25L211.79 7.67L211.31 10.03L211.31 12.39L211.79 14.28L212.73 15.23L214.15 15.70L214.62 15.70L216.04 15.23L216.98 14.28L217.46 12.86L217.46 12.39L216.98 10.97L216.04 10.03L214.62 9.56L214.15 9.56L212.73 10.03L211.79 10.97L211.31 12.39M228.32 5.78L228.32 15.70M234.94 5.78L234.94 15.70M228.32 10.50L234.94 10.50M238.00 14.65L238.00 14.33L238.29 13.70L238.59 13.38L239.17 13.07L240.34 13.07L240.93 13.38L241.22 13.70L241.52 14.33L241.52 14.97L241.22 15.60L240.64 16.55L237.71 19.72L241.81 19.72M252.14 5.78L252.14 15.70M252.14 5.78L258.28 5.78M252.14 10.50L255.92 10.50M252.14 15.70L258.28 15.70M260.64 9.09L265.84 15.70M265.84 9.09L260.64 15.70M274.35 10.50L273.40 9.56L272.46 9.09L271.04 9.09L270.09 9.56L269.15 10.50L268.68 11.92L268.68 12.86L269.15 14.28L270.09 15.23L271.04 15.70L272.46 15.70L273.40 15.23L274.35 14.28M277.18 5.78L277.65 6.25L278.13 5.78L277.65 5.30L277.18 5.78M277.65 9.09L277.65 15.70M281.91 5.78L281.91 13.81L282.38 15.23L283.32 15.70L284.27 15.70M280.49 9.09L283.80 9.09M292.30 9.09L292.30 15.70M292.30 10.50L291.36 9.56L290.41 9.09L288.99 9.09L288.05 9.56L287.10 10.50L286.63 11.92L286.63 12.86L287.10 14.28L288.05 15.23L288.99 15.70L290.41 15.70L291.36 15.23L292.30 14.28M296.55 5.78L296.55 13.81L297.03 15.23L297.97 15.70L298.92 15.70M295.14 9.09L298.44 9.09M301.28 5.78L301.75 6.25L302.22 5.78L301.75 5.30L301.28 5.78M301.75 9.09L301.75 15.70M307.42 9.09L306.48 9.56L305.53 10.50L305.06 11.92L305.06 12.86L305.53 14.28L306.48 15.23L307.42 15.70L308.84 15.70L309.78 15.23L310.73 14.28L311.20 12.86L311.20 11.92L310.73 10.50L309.78 9.56L308.84 9.09L307.42 9.09M314.51 9.09L314.51 15.70M314.51 10.97L315.93 9.56L316.87 9.09L318.29 9.09L319.23 9.56L319.71 10.97L319.71 15.70M331.05 5.78L331.05 15.70M331.05 5.78L334.35 5.78L335.77 6.25L336.72 7.20L337.19 8.14L337.66 9.56L337.66 11.92L337.19 13.34L336.72 14.28L335.77 15.23L334.35 15.70L331.05 15.70M340.50 5.78L340.97 6.25L341.44 5.78L340.97 5.30L340.50 5.78M340.97 9.09L340.97 15.70M349.95 9.09L349.95 15.70M349.95 10.50L349.00 9.56L348.06 9.09L346.64 9.09L345.69 9.56L344.75 10.50L344.28 11.92L344.28 12.86L344.75 14.28L345.69 15.23L346.64 15.70L348.06 15.70L349.00 15.23L349.95 14.28M358.92 9.09L358.92 16.64L358.45 18.06L357.98 18.54L357.03 19.01L355.62 19.01L354.67 18.54M358.92 10.50L357.98 9.56L357.03 9.09L355.62 9.09L354.67 9.56L353.73 10.50L353.25 11.92L353.25 12.86L353.73 14.28L354.67 15.23L355.62 15.70L357.03 15.70L357.98 15.23L358.92 14.28M362.70 9.09L362.70 15.70M362.70 11.92L363.18 10.50L364.12 9.56L365.07 9.09L366.48 9.09M374.04 9.09L374.04 15.70M374.04 10.50L373.10 9.56L372.15 9.09L370.74 9.09L369.79 9.56L368.85 10.50L368.37 11.92L368.37 12.86L368.85 14.28L369.79 15.23L370.74 15.70L372.15 15.70L373.10 15.23L374.04 14.28M377.82 9.09L377.82 15.70M377.82 10.97L379.24 9.56L380.19 9.09L381.60 9.09L382.55 9.56L383.02 10.97L383.02 15.70M383.02 10.97L384.44 9.56L385.38 9.09L386.80 9.09L387.75 9.56L388.22 10.97L388.22 15.70M402.87 3.89L401.92 4.83L400.98 6.25L400.03 8.14L399.56 10.50L399.56 12.39L400.03 14.75L400.98 16.64L401.92 18.06L402.87 19.01M406.17 9.09L406.17 15.70M406.17 10.97L407.59 9.56L408.54 9.09L409.95 9.09L410.90 9.56L411.37 10.97L411.37 15.70M414.43 13.07L414.43 19.72M418.53 13.07L418.53 19.72M414.43 16.23L418.53 16.23M421.60 10.03L430.10 10.03M421.60 12.86L430.10 12.86M434.83 7.67L435.77 7.20L437.19 5.78L437.19 15.70M445.69 5.78L444.28 6.25L443.33 7.67L442.86 10.03L442.86 11.45L443.33 13.81L444.28 15.23L445.69 15.70L446.64 15.70L448.06 15.23L449.00 13.81L449.47 11.45L449.47 10.03L449.00 7.67L448.06 6.25L446.64 5.78L445.69 5.78M452.36 3.24L455.58 3.24L453.82 5.77L454.70 5.77L455.29 6.09L455.58 6.41L455.87 7.36L455.87 7.99L455.58 8.94L454.99 9.57L454.11 9.89L453.23 9.89L452.36 9.57L452.06 9.26L451.77 8.62M471.40 10.50L470.45 9.56L469.51 9.09L468.09 9.09L467.14 9.56L466.20 10.50L465.73 11.92L465.73 12.86L466.20 14.28L467.14 15.23L468.09 15.70L469.51 15.70L470.45 15.23L471.40 14.28M474.70 9.09L474.70 15.70M474.70 10.97L476.12 9.56L477.07 9.09L478.48 9.09L479.43 9.56L479.90 10.97L479.90 15.70M479.90 10.97L481.32 9.56L482.26 9.09L483.68 9.09L484.63 9.56L485.10 10.97L485.10 15.70M488.16 7.04L493.43 7.04M496.07 3.24L499.29 3.24L497.54 5.77L498.41 5.77L499.00 6.09L499.29 6.41L499.59 7.36L499.59 7.99L499.29 8.94L498.71 9.57L497.83 9.89L496.95 9.89L496.07 9.57L495.78 9.26L495.49 8.62M501.88 3.89L502.83 4.83L503.77 6.25L504.72 8.14L505.19 10.50L505.19 12.39L504.72 14.75L503.77 16.64L502.83 18.06L501.88 19.01" stroke="#1c1c1c" stroke-width="1.05" fill="none" stroke-linecap="round" stroke-linejoin="round"/>
</svg></body></html>
